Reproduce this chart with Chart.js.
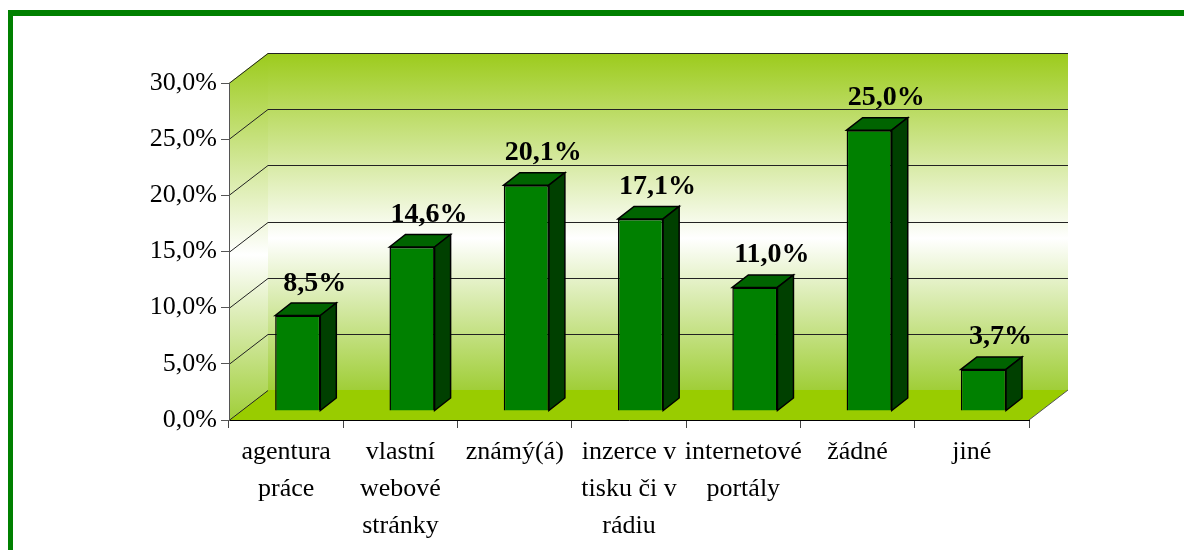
<!DOCTYPE html>
<html>
<head>
<meta charset="utf-8">
<script src="https://cdn.jsdelivr.net/npm/chart.js@4"></script>
<style>
    html, body { margin: 0; padding: 0; background: #fff; overflow: hidden; }
    #wrap { position: relative; width: 1184px; height: 550px; }
    #frame {
        position: absolute; left: 8px; top: 10px; width: 1400px; height: 800px;
        border-left: 5px solid #008000; border-top: 6px solid #008000;
        box-sizing: border-box;
    }
    canvas { position: absolute; left: 0; top: 0; }
</style>
</head>
<body>
<div id="wrap">
    <div id="frame"></div>
    <canvas id="chart" width="1184" height="550"></canvas>
</div>
<script>
// kategorie a hodnoty (%)
const categories = [
    ['agentura', 'práce'],
    ['vlastní', 'webové', 'stránky'],
    'známý(á)',
    ['inzerce v', 'tisku či v', 'rádiu'],
    ['internetové', 'portály'],
    'žádné',
    'jiné'
];
const values = [8.5, 14.6, 20.1, 17.1, 11.0, 25.0, 3.7];
const yTicks = [0, 5, 10, 15, 20, 25, 30];

const fmt = v => v.toFixed(1).replace('.', ',') + '%';

// hloubka 3D sceny
const WALL_DX = 39, WALL_DY = 30;
const BAR_SX = 11.6, BAR_SY = 9;
const BAR_DX = 16, BAR_DY = 12.5;

const walls3d = {
    id: 'walls3d',
    beforeDraw(chart) {
        const ctx = chart.ctx;
        const a = chart.chartArea;
        const ys = chart.scales.y;
        ctx.save();
        // gradient zadni steny
        const grad = ctx.createLinearGradient(0, a.top - WALL_DY, 0, a.bottom - WALL_DY);
        grad.addColorStop(0, '#9ccb1c');
        grad.addColorStop(0.55, '#ffffff');
        grad.addColorStop(1, '#a0ce38');
        ctx.fillStyle = grad;
        ctx.fillRect(a.left + WALL_DX, a.top - WALL_DY, a.right - a.left, a.bottom - a.top);
        // bocni stena
        const grad2 = ctx.createLinearGradient(0, a.top - WALL_DY, 0, a.bottom);
        grad2.addColorStop(0, '#9ccb1c');
        grad2.addColorStop(0.55, '#ffffff');
        grad2.addColorStop(1, '#a0ce38');
        ctx.fillStyle = grad2;
        ctx.beginPath();
        ctx.moveTo(a.left, a.top);
        ctx.lineTo(a.left + WALL_DX, a.top - WALL_DY);
        ctx.lineTo(a.left + WALL_DX, a.bottom - WALL_DY);
        ctx.lineTo(a.left, a.bottom);
        ctx.closePath();
        ctx.fill();
        // podlaha
        ctx.fillStyle = '#99cc00';
        ctx.beginPath();
        ctx.moveTo(a.left, a.bottom);
        ctx.lineTo(a.right, a.bottom);
        ctx.lineTo(a.right + WALL_DX, a.bottom - WALL_DY);
        ctx.lineTo(a.left + WALL_DX, a.bottom - WALL_DY);
        ctx.closePath();
        ctx.fill();
        ctx.strokeStyle = '#555';
        ctx.lineWidth = 1;
        ctx.beginPath();
        ctx.moveTo(a.right, a.bottom);
        ctx.lineTo(a.right + WALL_DX, a.bottom - WALL_DY);
        ctx.stroke();
        // mrizka
        ctx.strokeStyle = '#222';
        yTicks.forEach(v => {
            const y = Math.round(ys.getPixelForValue(v)) + 0.5;
            ctx.beginPath();
            ctx.moveTo(a.left, y);
            ctx.lineTo(a.left + WALL_DX, y - WALL_DY);
            if (v > 0) ctx.lineTo(a.right + WALL_DX, y - WALL_DY);
            ctx.stroke();
        });
        ctx.restore();
    },
    beforeDatasetsDraw(chart) {
        chart.ctx.save();
        chart.ctx.translate(BAR_SX, -BAR_SY);
    },
    afterDatasetsDraw(chart) {
        const ctx = chart.ctx;
        const meta = chart.getDatasetMeta(0);
        ctx.lineWidth = 1.5;
        ctx.strokeStyle = '#000';
        meta.data.forEach(bar => {
            const L = bar.x - bar.width / 2, R = bar.x + bar.width / 2;
            const T = bar.y, B = bar.base;
            // horni plocha
            ctx.fillStyle = '#006400';
            ctx.beginPath();
            ctx.moveTo(L, T);
            ctx.lineTo(L + BAR_DX, T - BAR_DY);
            ctx.lineTo(R + BAR_DX, T - BAR_DY);
            ctx.lineTo(R, T);
            ctx.closePath();
            ctx.fill();
            ctx.stroke();
            // bocni plocha
            ctx.fillStyle = '#004000';
            ctx.beginPath();
            ctx.moveTo(R, T);
            ctx.lineTo(R + BAR_DX, T - BAR_DY);
            ctx.lineTo(R + BAR_DX, B - BAR_DY);
            ctx.lineTo(R, B);
            ctx.closePath();
            ctx.fill();
            ctx.stroke();
        });
        ctx.restore();
        // popisky hodnot
        ctx.save();
        ctx.font = 'bold 28px "Liberation Serif", "Times New Roman", serif';
        ctx.fillStyle = '#000';
        ctx.textAlign = 'center';
        ctx.textBaseline = 'alphabetic';
        meta.data.forEach((bar, i) => {
            ctx.fillText(fmt(values[i]), bar.x + BAR_SX + 17, bar.y - BAR_SY - 25);
        });
        ctx.restore();
    }
};

const serif = '"Liberation Serif", "Times New Roman", serif';

new Chart(document.getElementById('chart'), {
    type: 'bar',
    data: {
        labels: categories,
        datasets: [{
            data: values,
            backgroundColor: '#008000',
            borderColor: '#000',
            borderWidth: 1.5,
            categoryPercentage: 1,
            barPercentage: 0.395,
            clip: false
        }]
    },
    options: {
        responsive: false,
        animation: false,
        layout: { padding: { top: 83, right: 155, left: 0, bottom: 0 } },
        plugins: { legend: { display: false }, tooltip: { enabled: false } },
        scales: {
            x: {
                afterFit: s => { s.height = 130; },
                grid: { drawOnChartArea: false, tickLength: 8, color: '#444' },
                border: { color: '#000' },
                ticks: {
                    color: '#000', maxRotation: 0, autoSkip: false, padding: 6,
                    font: { family: serif, size: 26, lineHeight: 37 / 26 }
                }
            },
            y: {
                min: 0, max: 30,
                afterFit: s => { s.width = 229; },
                grid: { drawOnChartArea: false, tickLength: 8, color: '#555' },
                border: { color: '#555' },
                ticks: {
                    stepSize: 5, color: '#000', padding: 4,
                    font: { family: serif, size: 26 },
                    callback: v => fmt(v)
                }
            }
        }
    },
    plugins: [walls3d]
});
</script>
</body>
</html>
